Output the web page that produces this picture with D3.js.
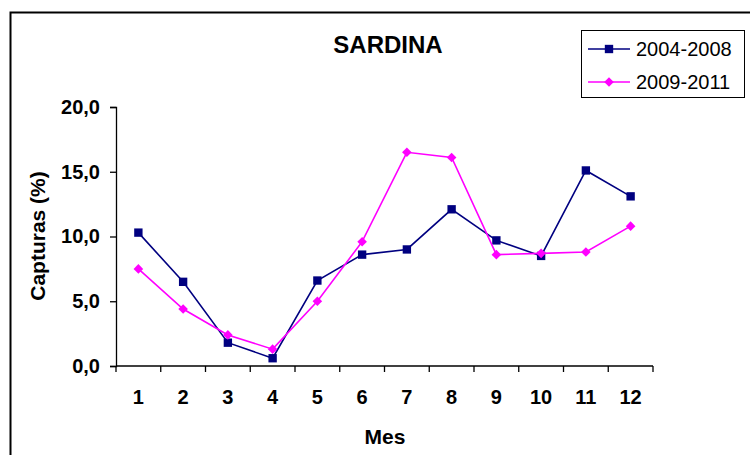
<!DOCTYPE html>
<html>
<head>
<meta charset="utf-8">
<script src="https://cdn.jsdelivr.net/npm/d3@7"></script>
<style>
  body { margin: 0; background: #fff; }
  svg { font-family: "Liberation Sans", Arial, sans-serif; }
</style>
</head>
<body>
<div id="chart"></div>
<script>
// datos
const meses = ["1", "2", "3", "4", "5", "6", "7", "8", "9", "10", "11", "12"];
const serie2004 = [10.3, 6.5, 1.8, 0.6, 6.6, 8.6, 9.0, 12.1, 9.7, 8.5, 15.1, 13.1];
const serie2009 = [7.5, 4.4, 2.4, 1.3, 5.0, 9.6, 16.5, 16.1, 8.6, 8.7, 8.8, 10.8];
const nombres = ["2004-2008", "2009-2011"];
const yTicks = [0, 5, 10, 15, 20];

const width = 750, height = 455;
const margin = { left: 116, right: 97, top: 107, bottom: 89 };

const svg = d3.select("#chart").append("svg")
    .attr("width", width)
    .attr("height", height);

// marco exterior
svg.append("path")
    .attr("d", `M10.5,${height} V12.5 H${width}`)
    .attr("fill", "none")
    .attr("stroke", "#000")
    .attr("stroke-width", 2);

const x = d3.scaleBand()
    .domain(meses)
    .range([margin.left, width - margin.right]);

const y = d3.scaleLinear()
    .domain([0, 20])
    .range([height - margin.bottom, margin.top]);

// eje Y
const yAxis = svg.append("g")
    .attr("transform", `translate(${margin.left},0)`)
    .call(d3.axisLeft(y).tickValues(yTicks).tickSize(6).tickPadding(10)
        .tickFormat(d => d3.format(".1f")(d).replace(".", ",")));
yAxis.selectAll("text")
    .attr("font-size", 20).attr("font-weight", "bold").attr("fill", "#000")
    .attr("font-family", "Liberation Sans, Arial, sans-serif");
yAxis.select(".domain").attr("stroke-width", 1.3);
yAxis.selectAll(".tick line").attr("stroke-width", 1.3);

// eje X (marcas en los límites de las bandas)
const xAxis = svg.append("g")
    .attr("transform", `translate(0,${height - margin.bottom})`);
xAxis.append("line")
    .attr("x1", margin.left).attr("x2", width - margin.right)
    .attr("stroke", "#000").attr("stroke-width", 1.3);
const bordes = meses.map(m => x(m)).concat([x.range()[1]]);
xAxis.selectAll(".tk").data(bordes).enter().append("line")
    .attr("x1", d => d).attr("x2", d => d)
    .attr("y1", 0).attr("y2", 6)
    .attr("stroke", "#000").attr("stroke-width", 1.3);
xAxis.selectAll(".lbl").data(meses).enter().append("text")
    .attr("x", d => x(d) + x.bandwidth() / 2)
    .attr("y", 38)
    .attr("text-anchor", "middle")
    .attr("font-size", 20).attr("font-weight", "bold")
    .text(d => d);

// títulos
svg.append("text")
    .attr("x", 388).attr("y", 53)
    .attr("text-anchor", "middle")
    .attr("font-size", 24).attr("font-weight", "bold")
    .text("SARDINA");

svg.append("text")
    .attr("x", 385).attr("y", 444)
    .attr("text-anchor", "middle")
    .attr("font-size", 21).attr("font-weight", "bold")
    .text("Mes");

svg.append("text")
    .attr("transform", "translate(45,236) rotate(-90)")
    .attr("text-anchor", "middle")
    .attr("font-size", 21).attr("font-weight", "bold")
    .text("Capturas (%)");

// series
const cx = (d, i) => x(meses[i]) + x.bandwidth() / 2;
const linea = d3.line().x(cx).y(d => y(d));

const series = [
    { nombre: nombres[0], valores: serie2004, color: "#000080", giro: 0, area: 70 },
    { nombre: nombres[1], valores: serie2009, color: "#FF00FF", giro: 45, area: 46 }
];

series.forEach(s => {
    svg.append("path")
        .datum(s.valores)
        .attr("d", linea)
        .attr("fill", "none")
        .attr("stroke", s.color)
        .attr("stroke-width", 1.6);
    svg.selectAll(null).data(s.valores).enter().append("path")
        .attr("transform", (d, i) => `translate(${cx(d, i)},${y(d)}) rotate(${s.giro})`)
        .attr("d", d3.symbol().type(d3.symbolSquare).size(s.area))
        .attr("fill", s.color);
});

// leyenda
const leyenda = svg.append("g");
leyenda.append("rect")
    .attr("x", 581.5).attr("y", 30.5)
    .attr("width", 163).attr("height", 67)
    .attr("fill", "#fff").attr("stroke", "#000").attr("stroke-width", 1);
series.forEach((s, i) => {
    const ly = 49 + i * 33;
    leyenda.append("line")
        .attr("x1", 588).attr("x2", 630)
        .attr("y1", ly).attr("y2", ly)
        .attr("stroke", s.color).attr("stroke-width", 1.6);
    leyenda.append("path")
        .attr("transform", `translate(609,${ly}) rotate(${s.giro})`)
        .attr("d", d3.symbol().type(d3.symbolSquare).size(s.area))
        .attr("fill", s.color);
    leyenda.append("text")
        .attr("x", 636).attr("y", ly + 7)
        .attr("font-size", 20)
        .text(s.nombre);
});
</script>
</body>
</html>
